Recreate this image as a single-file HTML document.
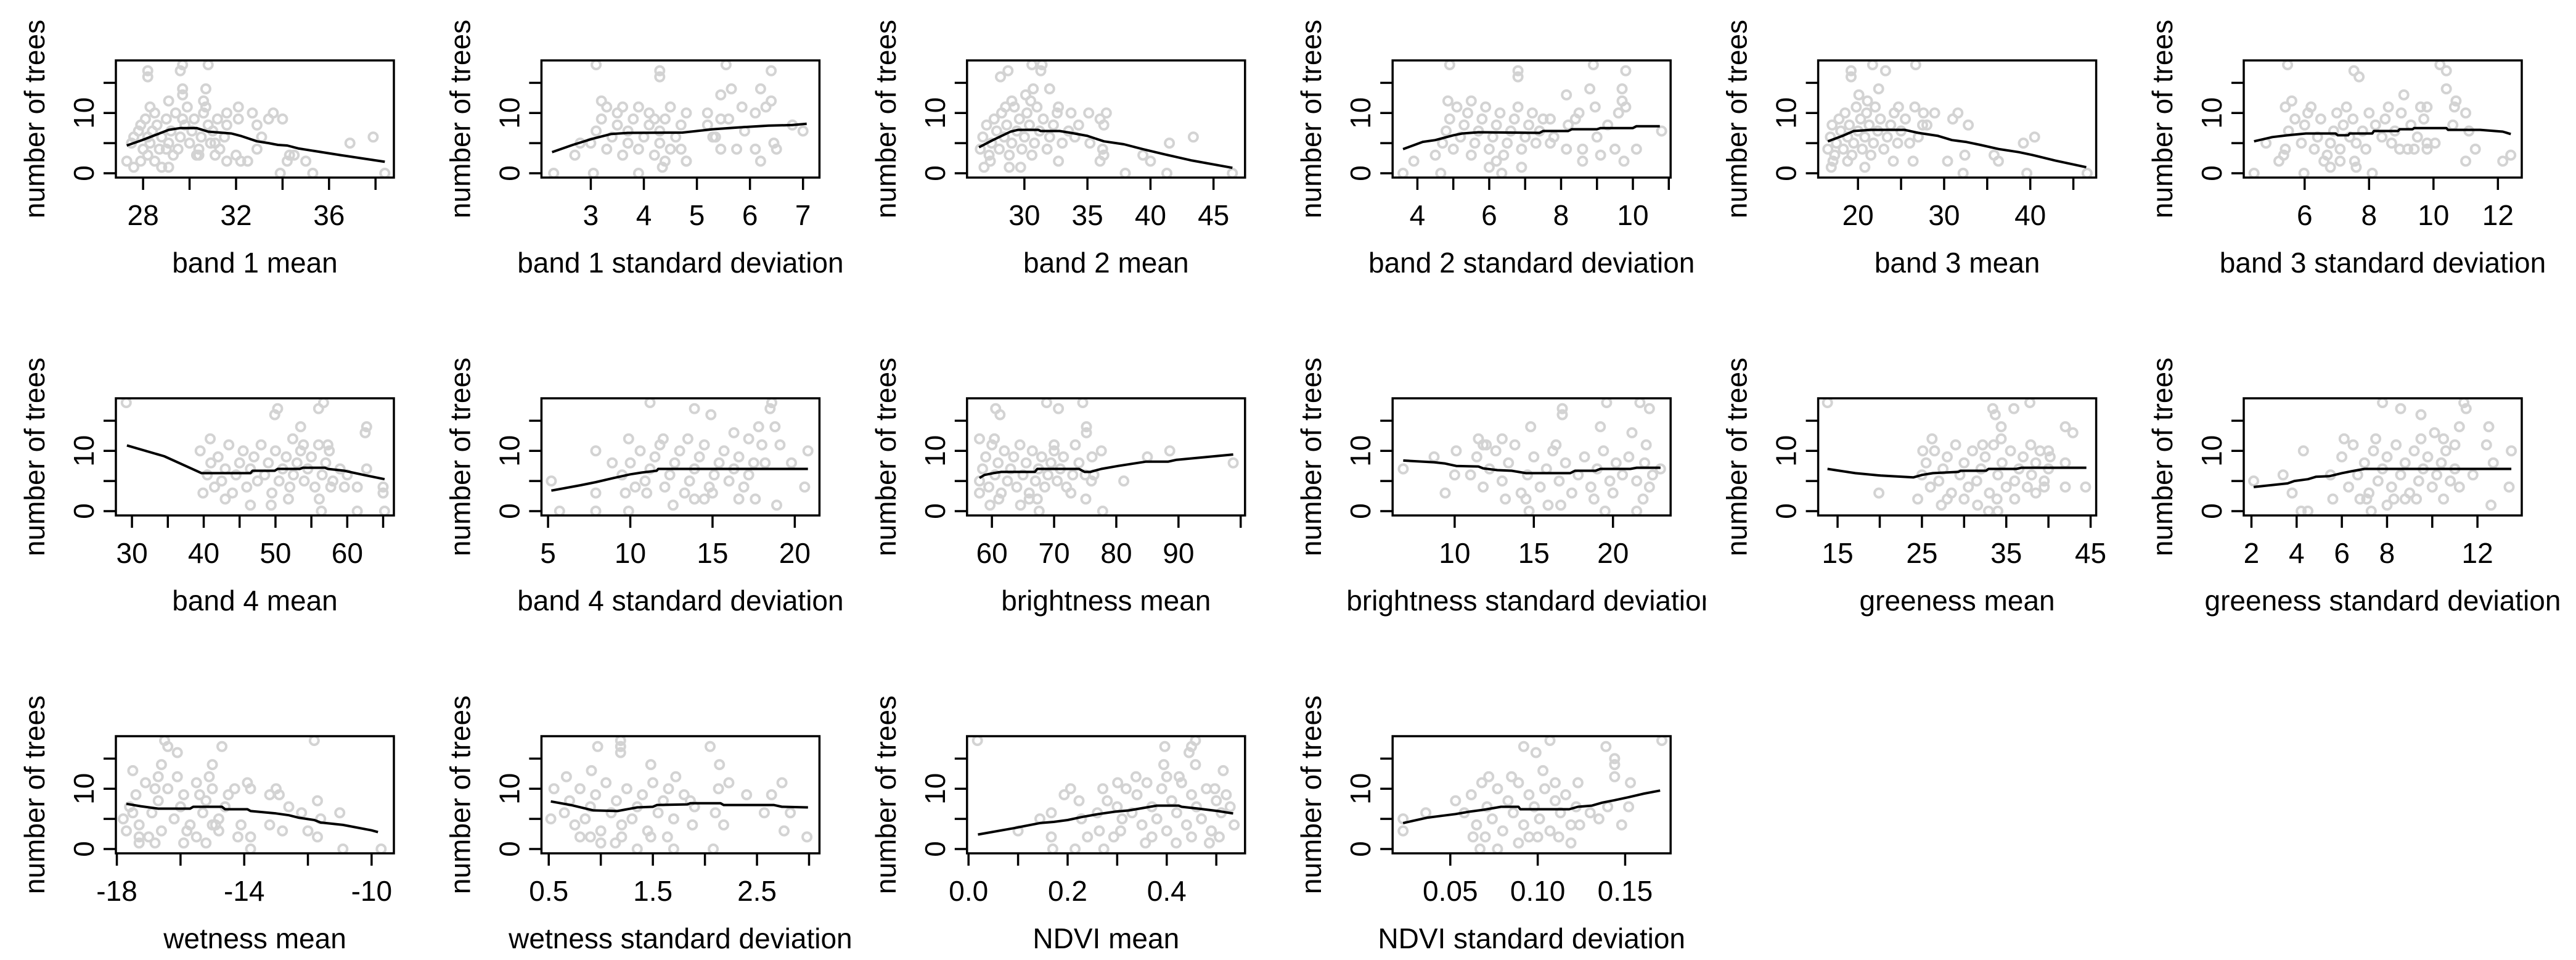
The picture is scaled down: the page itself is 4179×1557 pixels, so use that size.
<!DOCTYPE html>
<html>
<head>
<meta charset="utf-8">
<style>
  html, body { margin: 0; padding: 0; background: #ffffff; }
  svg { display: block; }
  text { font-family: "Liberation Sans", Arial, sans-serif; fill: #000; }
</style>
</head>
<body>
<svg id="chart" xmlns="http://www.w3.org/2000/svg" width="4179" height="1557" viewBox="0 0 4179 1557">
  <rect x="0" y="0" width="4179" height="1557" fill="#ffffff"/>
</svg>
<script>
// ---------- data ----------
const titles = ["band 1 mean","band 1 standard deviation","band 2 mean","band 2 standard deviation","band 3 mean","band 3 standard deviation",
  "band 4 mean","band 4 standard deviation","brightness mean","brightness standard deviation","greeness mean","greeness standard deviation",
  "wetness mean","wetness standard deviation","NDVI mean","NDVI standard deviation"];
const xLimits = [[26.83,38.79],[2.07,7.31],[25.45,47.5],[3.31,11.05],[15.38,47.65],[4.11,12.74],
  [27.76,66.5],[4.6,21.5],[56,100.7],[6.08,23.64],[12.7,45.66],[1.66,13.96],
  [-18.03,-9.3],[0.43,3.1],[-0.003,0.558],[0.017,0.176]];
const yLimits = [-0.72, 18.72];
const yTicks = [0,5,10,15];
const yTickLabels = ["0","","10",""];
const xTicks = [[28,30,32,34,36,38],[3,4,5,6,7],[30,35,40,45],[4,5,6,7,8,9,10,11],[20,25,30,35,40,45],[6,8,10,12],
  [30,35,40,45,50,55,60,65],[5,10,15,20],[60,70,80,90,100],[10,15,20],[15,20,25,30,35,40,45],[2,4,6,8,10,12],
  [-18,-16,-14,-12,-10],[0.5,1,1.5,2,2.5,3],[0,0.1,0.2,0.3,0.4,0.5],[0.05,0.10,0.15]];
const xTickLabels = [["28","","32","","36",""],["3","4","5","6","7"],["30","35","40","45"],["4","","6","","8","","10",""],["20","","30","","40",""],["6","8","10","12"],
  ["30","","40","","50","","60",""],["5","10","15","20"],["60","70","80","90",""],["10","15","20"],["15","","25","","35","","45"],["2","4","6","8","","12"],
  ["-18","","-14","","-10"],["0.5","","1.5","","2.5",""],["0.0","","0.2","","0.4",""],["0.05","0.10","0.15"]];

const pts1 = [[28.2,16],[28.2,17],[29.6,17],[29.7,18],[30.8,18],[29.7,14],[29.7,13],[30.7,14],[30.6,12],[29.1,12],[28.3,11],[31.6,10],[32.1,11],[32.1,9],[32.7,10],[32.9,8],[33.6,10],[33.4,9],[34,9],[33.1,6],[32.9,4],[36.9,5],[37.9,6],[33.9,0],[35.3,0],[38.4,0],[34.3,3],[34.5,3],[34.2,2],[35,2],[31.6,2],[32,3],[32.2,2],[32.5,2],[27.3,2],[27.6,1],[27.9,2],[28.5,2],[28.8,1],[29.1,1],[30.4,3],[31.1,3],[28.2,3],
  [27.5,5],[27.6,6],[27.8,7],[27.9,8],[28,4],[28.1,9],[28.3,5],[28.4,7],[28.6,8],[28.7,4],[28.8,6],[29,9],[29.1,5],[29.2,7],[29.4,10],[29.5,4],[29.6,6],[29.8,8],[29.9,11],[30,5],[30.1,7],[30.2,9],[30.4,4],[30.5,6],[30.6,10],[30.8,8],[30.9,5],[31,7],[31.2,9],[31.3,4],[31.5,6],[31.6,8],[29.3,3],[30.3,3],[28.5,10],[29.7,9],[30.7,11],[31.1,5],[28.2,6],[29,4]];
const fit1 = [[27.3,4.6],[27.96,5.5],[28.5,6.3],[29.1,7.2],[29.6,7.5],[30.3,7.5],[30.8,6.9],[31.8,6.6],[32.2,6.2],[32.9,5.3],[33.4,5.0],[33.8,4.7],[34.2,4.6],[34.7,4.1],[36.5,3.0],[38.4,1.9]];

const pts2 = [[3.1,18],[5.55,18],[4.3,17],[4.3,16],[6.4,17],[5.65,14],[5.45,13],[6.2,14],[6.4,12],[6.3,11],[5.85,11],[2.3,0],[3.05,0],[3.9,0],[2.7,3],[2.8,5],[4.35,1],[6.2,2],[6.45,5],[6.5,4],[7.0,7],[6.8,8],[5.75,4],[5.45,4],[6.1,4],[4.7,4],[4.8,2],[3.2,12],[5.45,9],[5.2,10],[5.35,6],
  [3,5],[3.1,7],[3.2,9],[3.3,4],[3.3,11],[3.4,6],[3.5,8],[3.5,10],[3.6,3],[3.7,5],[3.7,7],[3.8,9],[3.9,11],[3.9,4],[4,6],[4.1,8],[4.1,10],[4.2,3],[4.3,5],[4.3,7],[4.4,9],[4.5,4],[4.5,11],[4.6,6],[4.7,8],[4.8,2],[4.8,10],[5.2,8],[5.3,6],[5.6,9],[5.9,7],[6.1,10],[4.4,2],[3.6,11],[4.2,9]];
const fit2 = [[2.27,3.5],[2.66,4.7],[3.02,5.7],[3.38,6.5],[3.7,6.7],[4.73,6.75],[5.3,7.3],[5.77,7.6],[6.35,7.9],[6.8,8.0],[7.07,8.2]];

const pts3 = [[28.7,17],[28.1,16],[30.6,18],[31.4,18],[31.3,17],[30.7,14],[32,14],[30.1,13],[29,12],[32.7,11],[33.7,10],[35.1,10],[36.5,10],[36,9],[36.3,8],[34.3,8],[43.4,6],[41.5,5],[38,0],[41.3,0],[46.5,0],[39.4,3],[40,2],[36,2],[36.3,3],[32.7,2],[36.2,4],[35.2,5],[26.8,1],[27.3,2],[29.7,1],[28.8,1],
  [26.5,4],[26.7,6],[27,8],[27.2,3],[27.4,5],[27.6,9],[27.8,7],[28,4],[28.2,10],[28.4,6],[28.6,8],[28.8,3],[29,5],[29.2,11],[29.4,7],[29.6,9],[29.8,4],[30,6],[30.2,10],[30.4,8],[30.6,3],[30.8,5],[31,11],[31.2,7],[31.5,9],[31.8,4],[32,6],[32.3,8],[32.6,10],[33,5],[33.5,7],[34,6],[28.5,11],[30.5,12]];
const fit3 = [[26.4,4.3],[27.5,5.5],[28.9,6.9],[29.5,7.2],[31.1,7.2],[31.3,7.0],[32.8,7.0],[33.7,6.7],[35,6.2],[36.3,5.3],[37.9,4.8],[39.4,4.0],[41.2,3.1],[43.3,2.1],[46.5,0.9]];

const pts4 = [[4.9,18],[8.9,18],[6.8,17],[6.8,16],[9.8,17],[8.8,14],[9.7,14],[8.15,13],[9.7,12],[9.8,11],[8.95,11],[9.6,10],[3.6,0],[4.65,0],[6.35,0],[3.9,2],[8.6,2],[9.75,2],[10.8,7],[10.1,4],[9.1,3],[9.5,4],[8.15,4],[8.6,4],[7.7,5],[6.9,1],[6,1],[4.5,3],[4.85,12],[7.7,9],[8.4,9],
  [4.7,5],[4.8,7],[4.9,9],[5,4],[5.1,11],[5.2,6],[5.3,8],[5.4,10],[5.5,3],[5.6,5],[5.7,7],[5.8,9],[5.9,11],[6,4],[6.1,6],[6.2,8],[6.3,10],[6.4,3],[6.5,5],[6.6,7],[6.7,9],[6.8,11],[6.9,4],[7,6],[7.1,8],[7.2,10],[7.3,5],[7.4,7],[7.5,9],[7.8,6],[8.2,8],[8.5,10],[9,6],[9.3,8],[6.2,2],[5.5,12]];
const fit4 = [[3.6,4],[4.15,5.2],[4.5,5.5],[5,6.3],[5.25,6.6],[5.7,6.8],[7.4,6.7],[7.5,7.0],[8.2,7.0],[8.3,7.3],[9,7.3],[9.1,7.5],[10,7.5],[10.1,7.8],[10.75,7.8]];

const pts5 = [[19.2,17],[19.2,16],[21.7,18],[26.7,18],[23.2,17],[22.4,14],[20.1,13],[21.1,12],[26.6,11],[24.7,11],[27.6,10],[28.9,10],[31.6,10],[31,9],[32.8,8],[27.5,8],[40.5,6],[39.2,5],[32.2,0],[39.6,0],[46.6,0],[35.8,3],[36.3,2],[30.4,2],[32.4,3],[26.4,2],[24.1,2],[16.9,1],[17.1,2],[20.8,1],[18.8,2],
  [16.5,4],[16.8,6],[17,8],[17.3,3],[17.5,5],[17.8,9],[18,7],[18.3,4],[18.5,10],[18.8,6],[19,8],[19.3,3],[19.5,5],[19.8,11],[20,7],[20.3,9],[20.5,4],[20.8,6],[21,10],[21.3,8],[21.5,3],[21.8,5],[22,11],[22.3,7],[22.6,9],[23,4],[23.4,6],[23.8,8],[24.2,10],[24.6,5],[25,7],[25.5,9],[26,5],[27,6],[28,8]];
const fit5 = [[16.5,5.3],[18.2,6.2],[19.5,7],[21.5,7.2],[25.4,7.2],[27,6.7],[29.3,6.2],[30.9,5.5],[32.5,5.2],[34.2,4.7],[36.4,4],[38.7,3.5],[40.3,3],[42.9,2.1],[46.5,1]];

const pts6 = [[5.47,18],[7.53,17],[7.69,16],[10.2,18],[10.4,17],[10.4,14],[9.08,13],[10.7,12],[10.65,11],[11,10],[10.6,8],[11.1,7],[11.3,4],[11,2],[12.15,2],[12.4,3],[4.43,0],[5.98,0],[8.1,0],[5.2,2],[4.8,5],[5.4,11],[5.6,12],[7.6,1],[7.55,2],[6.8,1],[9.8,4],[10.05,5],[9.8,11],[9.6,11],[9.4,4],[8.95,4],[7.1,2],[5.35,3],
  [5.4,4],[5.5,7],[5.7,9],[5.9,5],[6,8],[6.1,10],[6.3,4],[6.4,6],[6.5,9],[6.7,3],[6.8,5],[6.9,7],[7,10],[7.1,4],[7.2,8],[7.4,6],[7.5,9],[7.6,5],[7.8,7],[7.9,4],[8,10],[8.2,8],[8.4,6],[8.5,9],[8.7,5],[8.8,7],[9,10],[9.2,4],[9.3,8],[9.5,6],[9.7,9],[9.8,5],[6.2,11],[7.3,11],[8.6,11],[6.6,2]];
const fit6 = [[4.43,5.3],[5,6],[5.47,6.3],[6.04,6.6],[6.96,6.6],[7.03,6.3],[7.35,6.3],[7.4,6.6],[8.1,6.6],[8.15,7],[8.9,7],[8.95,7.3],[9.35,7.3],[9.4,7.5],[10.4,7.5],[10.45,7.2],[11.45,7.2],[12.15,6.9],[12.4,6.5]];

const pts7 = [[29.2,18],[50.3,17],[49.9,16],[56.7,18],[56,17],[53.5,14],[62.7,14],[62.5,13],[40.9,12],[39.5,10],[52.4,12],[53.9,11],[57.3,11],[62.7,7],[65,4],[65,3],[65.2,0],[56.4,0],[61.4,0],[39.9,3],[49.4,1],[46.5,1],[43,2],[56.1,2],[61.4,4],[59.6,4],[57.7,4],[51.8,2],
  [40.5,6],[41,8],[41.5,4],[42,9],[42.5,5],[43,7],[43.5,11],[44,3],[44.5,6],[45,8],[45.5,10],[46,4],[46.5,7],[47,9],[47.5,5],[48,11],[48.5,6],[49,8],[49.5,3],[50,10],[50.5,5],[51,7],[51.5,9],[52,4],[52.5,6],[53,8],[53.5,10],[54,5],[54.5,7],[55,9],[55.5,4],[56,11],[56.5,6],[57,8],[57.5,10],[58,5],[59,7],[60,6]];
const fit7 = [[29.3,10.9],[34.5,9.1],[39.7,6.3],[46.5,6.3],[46.8,6.7],[49.9,6.7],[50.3,7],[53.4,7],[53.8,7.2],[56.9,7.2],[57.3,7],[59.6,6.7],[62.3,6],[65.2,5.3]];

const pts8 = [[11.2,18],[13.9,17],[14.9,16],[18.6,18],[18.5,17],[17.8,14],[18.8,14],[16.3,13],[17.2,12],[18,11],[19.1,11],[20.8,10],[19.8,8],[20.6,4],[18.9,1],[5.7,0],[7.9,0],[9.9,0],[5.2,5],[7.9,3],[7.9,10],[9.9,12],[16.6,2],[17.6,2],[12.6,1],[13.9,2],[14.5,2],[18.2,8],[8.9,8],[9.7,3],
  [9.5,6],[10,8],[10.3,4],[10.6,10],[10.9,5],[11.2,7],[11.5,9],[11.8,11],[12.1,4],[12.4,6],[12.7,8],[13,10],[13.3,3],[13.6,5],[13.9,7],[14.2,9],[14.5,11],[14.8,4],[15.1,6],[15.4,8],[15.7,10],[16,5],[16.3,7],[16.6,9],[16.9,4],[17.2,6],[17.5,8],[11,3],[12,12],[13.5,12],[15,3]];
const fit8 = [[5.2,3.4],[7,4.3],[7.9,4.8],[9,5.5],[10,6.1],[10.7,6.4],[11.6,6.7],[11.7,7],[20.8,7]];

const pts9 = [[60.6,17],[61.3,16],[68.8,18],[70.7,17],[74.6,18],[75.2,14],[75.2,13],[73.4,11],[58,12],[60.4,12],[77.6,10],[76.1,9],[88.6,10],[85,9],[98.8,8],[81.2,5],[77.8,0],[67.6,0],[64.6,1],[75.1,2],[76,5],[76.4,6],[72.7,3],[66,2],[67.3,2],[59.7,1],[61.1,2],[58,3],
  [58,5],[58.5,7],[59,9],[59.5,4],[60,11],[60.5,6],[61,8],[61.5,3],[62,10],[62.5,5],[63,7],[63.5,9],[64,4],[64.5,11],[65,6],[65.5,8],[66,3],[66.5,10],[67,5],[67.5,7],[68,9],[68.5,4],[69,6],[69.5,8],[70,10],[70.5,5],[71,7],[71.5,9],[72,4],[73,6],[74,8],[75,6],[70,11]];
const fit9 = [[58,5.5],[58.8,6],[60.2,6.3],[61.5,6.5],[66.9,6.5],[67.3,7],[74,7],[74.9,6.5],[75.8,6.5],[77.6,7],[80.3,7.5],[84.7,8.2],[88.3,8.2],[89.6,8.5],[98.8,9.4]];

const pts10 = [[16.8,17],[16.8,16],[19.6,18],[21.7,18],[22.3,17],[14.8,14],[19.2,14],[21.2,13],[22.1,11],[11.5,12],[11.8,11],[10.1,10],[8.7,9],[6.75,7],[9.4,3],[10,6],[14.7,0],[19.5,0],[21.5,0],[21.9,2],[22.3,4],[23,7],[20,3],[18.8,2],[16.7,1],[15.9,1],[14.5,2],[13.2,2],[16.4,11],
  [11,6],[11.4,9],[11.8,4],[12.2,7],[12.6,10],[13,5],[13.4,8],[13.8,11],[14.2,3],[14.6,6],[15,9],[15.4,4],[15.8,7],[16.2,10],[16.6,5],[17,8],[17.4,3],[17.8,6],[18.2,9],[18.6,4],[19,7],[19.4,10],[19.8,5],[20.2,8],[20.6,6],[21,9],[21.5,5],[22,8],[22.5,6],[13,12],[12,11]];
const fit10 = [[6.75,8.4],[8.7,8.1],[9.4,7.9],[10.1,7.5],[11.5,7.4],[11.8,7.1],[12.7,6.8],[13.6,6.7],[14.5,6.3],[17.3,6.3],[17.6,6.7],[18.9,6.7],[19.2,7],[21.1,7],[21.5,7.2],[23,7.2]];

const pts11 = [[13.8,18],[33.4,17],[33.7,16],[35.9,17],[37.8,18],[34.4,14],[42,14],[42.9,13],[34.4,12],[26.2,12],[32.2,11],[37.9,11],[25.1,10],[19.9,3],[24.5,2],[42,4],[44.4,4],[42,8],[32.9,0],[34,0],[33.9,2],[36,2],[27.3,1],[31.6,1],[39.5,4],[38.5,3],[40,10],[40.2,9],
  [25,6],[25.5,8],[26,4],[26.5,10],[27,5],[27.5,7],[28,9],[28.5,3],[29,11],[29.5,6],[30,8],[30.5,4],[31,10],[31.5,5],[32,7],[32.5,9],[33,3],[33.5,11],[34,6],[34.5,8],[35,4],[35.5,10],[36,5],[36.5,7],[37,9],[37.5,4],[38,6],[38.5,8],[39,10],[39.5,5],[40,7],[28,2],[30,2]];
const fit11 = [[13.8,7],[17.1,6.3],[20.1,5.9],[24,5.6],[25,6],[26.3,6.3],[29.3,6.5],[29.6,6.7],[32.6,6.7],[32.9,7],[36.2,7],[36.8,7.2],[44.5,7.2]];

const pts12 = [[7.8,18],[8.6,17],[9.5,16],[11.4,18],[11.5,17],[11.2,14],[12.5,14],[10.1,13],[10.5,12],[11,11],[12.4,11],[13.5,10],[12.7,8],[13.4,4],[12.6,1],[4.3,10],[4.2,0],[4.5,0],[7.3,0],[2.1,5],[3.8,3],[3.4,6],[6.1,12],[7.1,2],[8,1],[8.3,2],[8.8,2],[9.3,2],[10.5,2],[11.8,6],[5.6,2],
  [5.5,6],[6,9],[6.3,4],[6.5,11],[6.7,6],[7,8],[7.2,3],[7.4,10],[7.6,5],[7.8,7],[8,9],[8.2,4],[8.4,11],[8.6,6],[8.8,8],[9,3],[9.2,10],[9.4,5],[9.6,7],[9.8,9],[10,4],[10.2,6],[10.4,8],[10.6,10],[10.8,5],[11,7],[11.2,4],[6.8,2],[7.5,12],[9.5,12]];
const fit12 = [[2.1,4],[3.6,4.6],[3.9,5],[4.5,5.3],[4.85,5.7],[5.45,5.8],[6,6.3],[6.4,6.6],[7,7],[13.5,7]];

const pts13 = [[-16.5,18],[-16.4,17],[-16.1,16],[-14.7,17],[-11.8,18],[-16.6,14],[-15,14],[-17.5,13],[-16.7,12],[-15.1,12],[-13.9,11],[-13.8,10],[-14.3,10],[-13,10],[-12.9,9],[-13.2,9],[-11.7,8],[-12.6,7],[-11,6],[-12.2,6],[-11.6,5],[-12,3],[-11.7,2],[-12.8,3],[-13.2,4],[-13.8,0],[-10.9,0],[-9.7,0],[-14.2,2],[-13.8,2],[-14.1,4],[-15.2,1],[-15.9,1],[-16.8,1],[-17.3,1],[-17.3,2],[-15.5,2],[-14.8,3],[-15,4],
  [-17.8,5],[-17.6,7],[-17.4,9],[-17.3,4],[-17.1,11],[-16.9,6],[-16.7,8],[-16.6,3],[-16.4,10],[-16.2,5],[-16,7],[-15.9,9],[-15.7,4],[-15.5,11],[-15.3,6],[-15.2,8],[-15,10],[-14.8,5],[-14.6,7],[-14.5,9],[-17.7,3],[-16.8,10],[-15.8,3],[-14.9,4],[-17,2],[-16.1,12],[-15.4,9],[-17.5,6]];
const fit13 = [[-17.7,7.5],[-17.25,7.1],[-16.7,6.7],[-15.7,6.7],[-15.6,7],[-14.7,7],[-14.6,6.6],[-13.9,6.6],[-13.8,6.3],[-13,5.9],[-12.6,5.6],[-12.3,5.2],[-11.8,4.8],[-11.6,4.4],[-10.9,4],[-10,3.1],[-9.8,2.8]];

const pts14 = [[1.19,18],[1.19,17],[0.97,17],[1.19,16],[2.05,17],[1.48,14],[2.14,14],[0.91,13],[0.67,12],[1.72,12],[2.23,11],[2.74,11],[0.55,10],[2.13,10],[2.4,9],[2.64,9],[1.86,8],[2.57,6],[2.82,6],[2.1,6],[2.18,4],[2.76,3],[2.98,2],[0.52,5],[1.35,0],[1.7,0],[2.08,0],[1.48,2],[1.64,2],[1.88,4],[1.0,1],[1.14,1],[0.8,2],
  [0.65,6],[0.7,8],[0.75,4],[0.8,10],[0.85,5],[0.9,7],[0.95,9],[1,3],[1.05,11],[1.1,6],[1.15,8],[1.2,4],[1.25,10],[1.3,5],[1.35,7],[1.4,9],[1.45,3],[1.5,11],[1.55,6],[1.6,8],[1.7,5],[1.8,9],[0.9,2],[1.2,2],[1.65,10],[1.9,7]];
const fit14 = [[0.52,7.9],[0.71,7.3],[0.93,6.4],[1.16,6.3],[1.35,6.9],[1.5,7],[1.54,7.3],[1.83,7.4],[1.86,7.6],[2.15,7.6],[2.18,7.3],[2.66,7.3],[2.74,7],[2.99,6.9]];

const pts15 = [[0.018,18],[0.458,18],[0.45,17],[0.396,17],[0.445,16],[0.394,14],[0.458,14],[0.514,13],[0.338,12],[0.425,12],[0.301,11],[0.206,10],[0.271,10],[0.193,9],[0.318,10],[0.1,3],[0.144,5],[0.167,6],[0.167,2],[0.17,0],[0.215,0],[0.273,0],[0.24,2],[0.293,2],[0.307,3],[0.264,3],[0.357,1],[0.419,1],[0.486,1],[0.506,2],[0.536,4],[0.528,7],[0.497,10],[0.228,5],[0.223,8],
  [0.33,6],[0.34,9],[0.35,4],[0.36,11],[0.37,7],[0.38,5],[0.39,10],[0.4,3],[0.41,8],[0.42,6],[0.43,11],[0.44,4],[0.45,9],[0.46,7],[0.47,5],[0.48,10],[0.49,3],[0.5,8],[0.51,6],[0.52,9],[0.3,7],[0.31,5],[0.28,8],[0.26,6],[0.4,12],[0.45,2],[0.37,2]];
const fit15 = [[0.019,2.4],[0.094,3.5],[0.144,4.3],[0.172,4.5],[0.2,4.8],[0.228,5.3],[0.262,5.8],[0.296,6.2],[0.324,6.4],[0.352,6.8],[0.38,7.2],[0.424,7.2],[0.43,7],[0.464,6.7],[0.503,6.3],[0.534,5.9]];

const pts16 = [[0.107,18],[0.092,17],[0.099,16],[0.139,17],[0.171,18],[0.144,14],[0.144,15],[0.103,13],[0.144,12],[0.153,11],[0.11,11],[0.123,11],[0.072,12],[0.023,5],[0.023,3],[0.036,6],[0.152,7],[0.148,4],[0.135,5],[0.067,0],[0.077,0],[0.124,4],[0.112,2],[0.119,1],[0.089,1],[0.063,2],[0.053,8],[0.1,2],
  [0.058,6],[0.062,9],[0.065,4],[0.068,11],[0.071,7],[0.074,5],[0.077,10],[0.08,3],[0.083,8],[0.086,6],[0.089,11],[0.092,4],[0.095,9],[0.098,7],[0.101,5],[0.104,10],[0.107,3],[0.11,8],[0.113,6],[0.116,9],[0.119,4],[0.122,7],[0.07,2],[0.095,2],[0.085,12],[0.13,6],[0.14,7]];
const fit16 = [[0.023,4.3],[0.037,5.2],[0.045,5.5],[0.053,5.8],[0.061,6.2],[0.069,6.5],[0.079,7],[0.089,7],[0.09,6.6],[0.118,6.6],[0.123,7],[0.131,7.2],[0.137,7.7],[0.144,8.1],[0.152,8.6],[0.161,9.2],[0.17,9.7]];

const pointSets = [pts1,pts2,pts3,pts4,pts5,pts6,pts7,pts8,pts9,pts10,pts11,pts12,pts13,pts14,pts15,pts16];
const fitSets = [fit1,fit2,fit3,fit4,fit5,fit6,fit7,fit8,fit9,fit10,fit11,fit12,fit13,fit14,fit15,fit16];

// ---------- drawing ----------
const NS = "http://www.w3.org/2000/svg";
const svg = document.getElementById("chart");
const BOX_W = 451, BOX_H = 190, COL_STEP = 690.4, ROW_STEP = 548, LEFT0 = 188, TOP0 = 98;

function mk(tag, attrs, parent) {
  const e = document.createElementNS(NS, tag);
  for (const k in attrs) e.setAttribute(k, attrs[k]);
  parent.appendChild(e);
  return e;
}
function slug(s) { return s.toLowerCase().replace(/[^a-z0-9]+/g, "-").replace(/^-|-$/g, ""); }

const defs = mk("defs", {}, svg);

titles.forEach(function (title, i) {
  const col = i % 6, row = Math.floor(i / 6);
  const x0 = LEFT0 + col * COL_STEP, y0 = TOP0 + row * ROW_STEP;
  const xl = xLimits[i];
  const sx = function (v) { return x0 + (v - xl[0]) / (xl[1] - xl[0]) * BOX_W; };
  const sy = function (v) { return y0 + BOX_H - (v - yLimits[0]) / (yLimits[1] - yLimits[0]) * BOX_H; };
  const id = slug(title);

  const cp = mk("clipPath", { id: "cell-" + i }, defs);
  const clipW = (col === 5) ? (4179 - (x0 - 188)) : 696;
  mk("rect", { x: x0 - 188, y: y0 - 98, width: clipW, height: 548 }, cp);
  const bc = mk("clipPath", { id: "box-" + i }, defs);
  mk("rect", { x: x0, y: y0, width: BOX_W, height: BOX_H }, bc);

  const g = mk("g", { "clip-path": "url(#cell-" + i + ")" }, svg);
  
  

  const pg = mk("g", { "clip-path": "url(#box-" + i + ")", fill: "none", stroke: "#d3d3d3", "stroke-width": 4 }, g);
  
  
  pointSets[i].forEach(function (p) {
    const c = mk("circle", { cx: sx(p[0]).toFixed(1), cy: sy(p[1]).toFixed(1), r: 7 }, pg);
    
    
  });

  const d = fitSets[i].map(function (p, k) { return (k ? "L" : "M") + sx(p[0]).toFixed(1) + " " + sy(p[1]).toFixed(1); }).join(" ");
  const line = mk("path", { d: d, fill: "none", stroke: "#000", "stroke-width": 4, "stroke-linejoin": "round" }, g);
  
  

  const fr = mk("rect", { x: x0, y: y0, width: BOX_W, height: BOX_H, fill: "none", stroke: "#000", "stroke-width": 3.5 }, g);
  
  

  yTicks.forEach(function (v, k) {
    const yy = sy(v);
    const t = mk("line", { x1: x0 - 20, x2: x0, y1: yy, y2: yy, stroke: "#000", "stroke-width": 3.5 }, g);
    
    
    if (yTickLabels[k]) {
      const tx = mk("text", { x: x0 - 36, y: yy, "font-size": 46, "text-anchor": "middle", transform: "rotate(-90 " + (x0 - 36) + " " + yy + ")" }, g);
      tx.textContent = yTickLabels[k];
      
      
    }
  });
  const ycx = x0 - 116, ycy = y0 + BOX_H / 2;
  const yt = mk("text", { x: ycx, y: ycy, "font-size": 46, "text-anchor": "middle", transform: "rotate(-90 " + ycx + " " + ycy + ")" }, g);
  yt.textContent = "number of trees";
  
  

  xTicks[i].forEach(function (v, k) {
    const xx = sx(v);
    const t = mk("line", { x1: xx, x2: xx, y1: y0 + BOX_H, y2: y0 + BOX_H + 20, stroke: "#000", "stroke-width": 3.5 }, g);
    
    
    if (xTickLabels[i][k]) {
      const tx = mk("text", { x: xx, y: y0 + BOX_H + 77, "font-size": 46, "text-anchor": "middle" }, g);
      tx.textContent = xTickLabels[i][k];
      
      
    }
  });
  const xt = mk("text", { x: x0 + BOX_W / 2, y: y0 + BOX_H + 154, "font-size": 46, "text-anchor": "middle" }, g);
  xt.textContent = title;
  
  
});
</script>
</body>
</html>
